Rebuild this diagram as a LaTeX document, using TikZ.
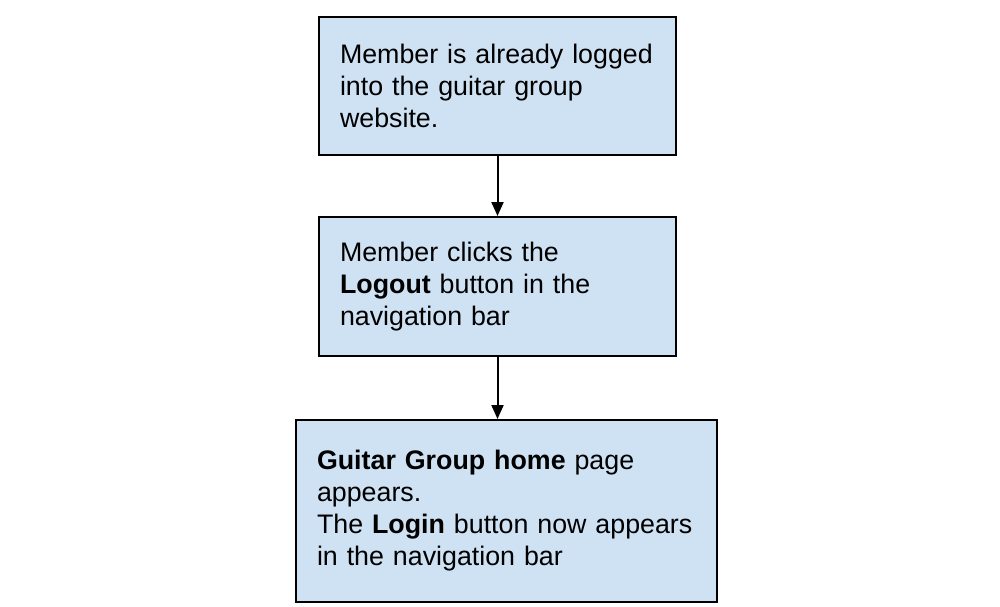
\documentclass[tikz,border=0pt]{standalone}
\usepackage{fontspec}
\setmainfont{Liberation Sans}
\usetikzlibrary{positioning,arrows.meta}
\definecolor{boxblue}{RGB}{207,226,243}

\begin{document}
\begin{tikzpicture}[x=0.5pt,y=-0.5pt,
    stepbox/.style={draw=black,line width=1pt,fill=boxblue,align=left,
      inner xsep=10.5pt,font=\fontsize{13.4}{16}\selectfont},
    flow/.style={-{Triangle[length=7pt,width=6pt]},line width=1pt}]
    \useasboundingbox (0,0) rectangle (1000,606);

    \node[stepbox,text width=157.5pt,minimum height=69pt] (loggedin) at (497.5,86)
    {Member is already logged\\into the guitar group\\website.};
    \node[stepbox,text width=157.5pt,minimum height=69.5pt,below=30pt of loggedin] (logout)
    {Member clicks the\\\textbf{Logout} button in the\\navigation bar};
    \node[stepbox,text width=189.5pt,minimum height=91pt,below=31pt of logout,xshift=4.5pt] (home)
    {\textbf{Guitar Group home} page\\appears.\\The \textbf{Login} button now appears\\in the navigation bar};

    \draw[flow] (loggedin) -- (logout);
    \draw[flow] (logout.south) -- (logout.south |- home.north);
\end{tikzpicture}
\end{document}
